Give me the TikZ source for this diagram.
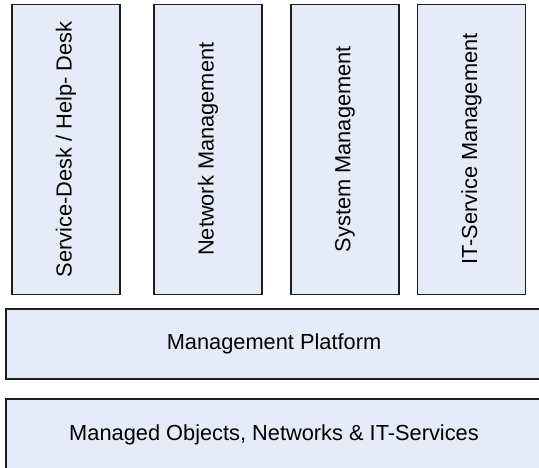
\documentclass[tikz,border=0pt]{standalone}
\usepackage{fontspec}
\setmainfont{Liberation Sans}
\definecolor{layerfill}{RGB}{230,236,247}
\definecolor{layerline}{RGB}{30,30,30}
\tikzset{
    layer/.style={draw=layerline, fill=layerfill, line width=1.1pt, inner sep=0pt,
        font=\fontsize{21.8}{26}\selectfont},
    column/.style={layer, rotate=90, minimum width=290pt, minimum height=108pt},
    band/.style={layer, minimum width=536pt}
}
\begin{document}
\begin{tikzpicture}[x=1pt, y=-1pt]
    \useasboundingbox (0,0) rectangle (539,468);

    % management disciplines
    \node[column] (servicedesk) at (66,149.2)  {Service-Desk / Help- Desk};
    \node[column] (network)     at (208,149.2) {Network Management};
    \node[column] (system)      at (345,149.2) {System Management};
    \node[column] (itservice)   at (471.5,149.2) {IT-Service Management};

    % base layers
    \node[band, minimum height=70pt] (platform) at (274,344)   {Management Platform};
    \node[band, minimum height=71pt] (managed)  at (274,434.5) {Managed Objects, Networks \& IT-Services};
\end{tikzpicture}
\end{document}
